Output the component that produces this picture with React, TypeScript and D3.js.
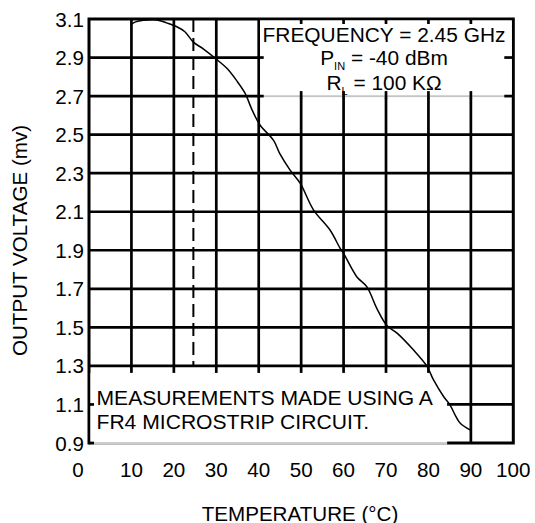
import React from "react";
import * as d3 from "d3";

const temperatures = [9.8, 11, 12.8, 16, 18.3, 20.7, 22.6, 24.6, 27, 30.1, 32.5, 34.8, 36.8, 38.4, 40.3, 43.5, 45, 47.4, 49.8, 52.9, 56.8, 59.2, 60, 63.1, 65.5, 67.8, 70.2, 72.6, 76.5, 79.6, 81.2, 83.6, 85.1, 86.3, 87.5, 89.9];
const voltages = [3.07, 3.085, 3.093, 3.095, 3.08, 3.06, 3.034, 2.98, 2.944, 2.89, 2.844, 2.78, 2.714, 2.63, 2.55, 2.47, 2.4, 2.316, 2.247, 2.11, 2.005, 1.91, 1.884, 1.763, 1.71, 1.6, 1.51, 1.47, 1.382, 1.3, 1.227, 1.14, 1.097, 1.045, 1.002, 0.967];
const xTickValues = [0, 10, 20, 30, 40, 50, 60, 70, 80, 90, 100];
const yTickValues = [0.9, 1.1, 1.3, 1.5, 1.7, 1.9, 2.1, 2.3, 2.5, 2.7, 2.9, 3.1];
const dashedTemp = 24.6;
const noteLines = ["MEASUREMENTS MADE USING A", "FR4 MICROSTRIP CIRCUIT."];

const FONT = "'Liberation Sans', Arial, Helvetica, sans-serif";

export default function App() {
  const W = 535, H = 523;
  const x = d3.scaleLinear().domain([0, 100]).range([89, 513.3]);
  const y = d3.scaleLinear().domain([0.9, 3.1]).range([443, 19]);
  const gw = 2.7;
  const bw = 3;
  const stub = 5;

  const line = d3
    .line<number>()
    .x((_, i) => x(temperatures[i]))
    .y((d) => y(d))
    .curve(d3.curveCatmullRom.alpha(0.5));

  const innerX = xTickValues.slice(1, -1);
  const innerY = yTickValues.slice(1, -1);

  const tb = { x0: x(40), x1: x(100), y0: y(3.1), y1: y(2.7) };
  const bb = { x0: x(0), x1: x(84.4), y0: y(1.3) + 7, y1: y(0.9) };

  const fs = 20.6;
  const fsNote = 21.1;
  const fsInfo = 20.9;

  return (
    <div style={{ position: "absolute", left: 0, top: 0 }}>
      <svg width={W} height={H} style={{ display: "block", background: "#fff" }}>
        <rect x={0} y={0} width={W} height={H} fill="#fff" />
        {innerY.map((v) => (
          <line key={"h" + v} x1={x(0)} x2={x(100)} y1={y(v)} y2={y(v)} stroke="#000" strokeWidth={gw} />
        ))}
        {innerX.map((v) => (
          <line key={"v" + v} x1={x(v)} x2={x(v)} y1={y(3.1)} y2={y(0.9)} stroke="#000" strokeWidth={gw} />
        ))}
        <line x1={x(dashedTemp)} x2={x(dashedTemp)} y1={y(3.1)} y2={y(1.3)} stroke="#000" strokeWidth={2} strokeDasharray="13,6" />
        <rect x={x(0)} y={y(3.1)} width={x(100) - x(0)} height={y(0.9) - y(3.1)} fill="none" stroke="#000" strokeWidth={bw} />

        <rect x={tb.x0 + gw / 2} y={tb.y0 + bw / 2} width={tb.x1 - tb.x0 - gw / 2 - bw / 2} height={tb.y1 - tb.y0 - bw / 2 + gw / 2 + 0.5} fill="#fff" />
        <line x1={tb.x0} x2={tb.x1} y1={tb.y1} y2={tb.y1} stroke="#999" strokeWidth={1} />
        {xTickValues.filter((v) => v > 40 && v < 100).map((v) => (
          <g key={"ts" + v}>
            <line x1={x(v)} x2={x(v)} y1={tb.y0} y2={tb.y0 + stub} stroke="#000" strokeWidth={gw} />
            <line x1={x(v)} x2={x(v)} y1={tb.y1 - stub} y2={tb.y1 + gw} stroke="#000" strokeWidth={gw} />
          </g>
        ))}
        {[2.9, 2.7].map((v) => (
          <g key={"tsh" + v}>
            <line x1={tb.x0} x2={tb.x0 + stub} y1={y(v)} y2={y(v)} stroke="#000" strokeWidth={gw} />
            <line x1={tb.x1 - stub - 4} x2={tb.x1} y1={y(v)} y2={y(v)} stroke="#000" strokeWidth={gw} />
          </g>
        ))}
        <text x={(tb.x0 + tb.x1) / 2 - 2} y={41.5} textAnchor="middle" fontFamily={FONT} fontSize={fsInfo} fill="#000">
          FREQUENCY = 2.45 GHz
        </text>
        <text x={(tb.x0 + tb.x1) / 2 - 2} y={65} textAnchor="middle" fontFamily={FONT} fontSize={fsInfo} fill="#000">
          <tspan>P</tspan>
          <tspan fontSize={11} dy={5}>IN</tspan>
          <tspan dy={-5}> = -40 dBm</tspan>
        </text>
        <text x={(tb.x0 + tb.x1) / 2 - 2} y={89.5} textAnchor="middle" fontFamily={FONT} fontSize={fsInfo} fill="#000">
          <tspan>R</tspan>
          <tspan fontSize={11} dy={5}>L</tspan>
          <tspan dy={-5}> = 100 KΩ</tspan>
        </text>

        <rect x={bb.x0 + bw / 2} y={bb.y0} width={bb.x1 - bb.x0 - bw / 2} height={bb.y1 - bb.y0 + bw / 2} fill="#fff" />
        <line x1={bb.x0} x2={bb.x1} y1={bb.y1} y2={bb.y1} stroke="#999" strokeWidth={1} />
        {[1.1, 0.9].map((v) => (
          <line key={"bsh" + v} x1={bb.x0} x2={bb.x0 + stub} y1={y(v)} y2={y(v)} stroke="#000" strokeWidth={gw} />
        ))}
        {noteLines.map((t, i) => (
          <text key={t} x={96.5} y={405 + i * 23.5} fontFamily={FONT} fontSize={fsNote} fill="#000">
            {t}
          </text>
        ))}

        <path d={line(voltages) || ""} fill="none" stroke="#000" strokeWidth={1.5} />

        {yTickValues.map((v) => (
          <text key={"yl" + v} x={84} y={y(v) + 7.5} textAnchor="end" fontFamily={FONT} fontSize={fs} fill="#000">
            {v.toFixed(1)}
          </text>
        ))}
        {xTickValues.map((v) => (
          <text key={"xl" + v} x={x(v) + (v === 0 ? -11 : 0)} y={476.5} textAnchor="middle" fontFamily={FONT} fontSize={fs} fill="#000">
            {v}
          </text>
        ))}
        <text x={300} y={520.5} textAnchor="middle" fontFamily={FONT} fontSize={fs} fill="#000">
          TEMPERATURE (°C)
        </text>
        <text transform={`translate(26.5,240.5) rotate(-90)`} textAnchor="middle" fontFamily={FONT} fontSize={fs} fill="#000">
          OUTPUT VOLTAGE (mv)
        </text>
      </svg>
    </div>
  );
}
